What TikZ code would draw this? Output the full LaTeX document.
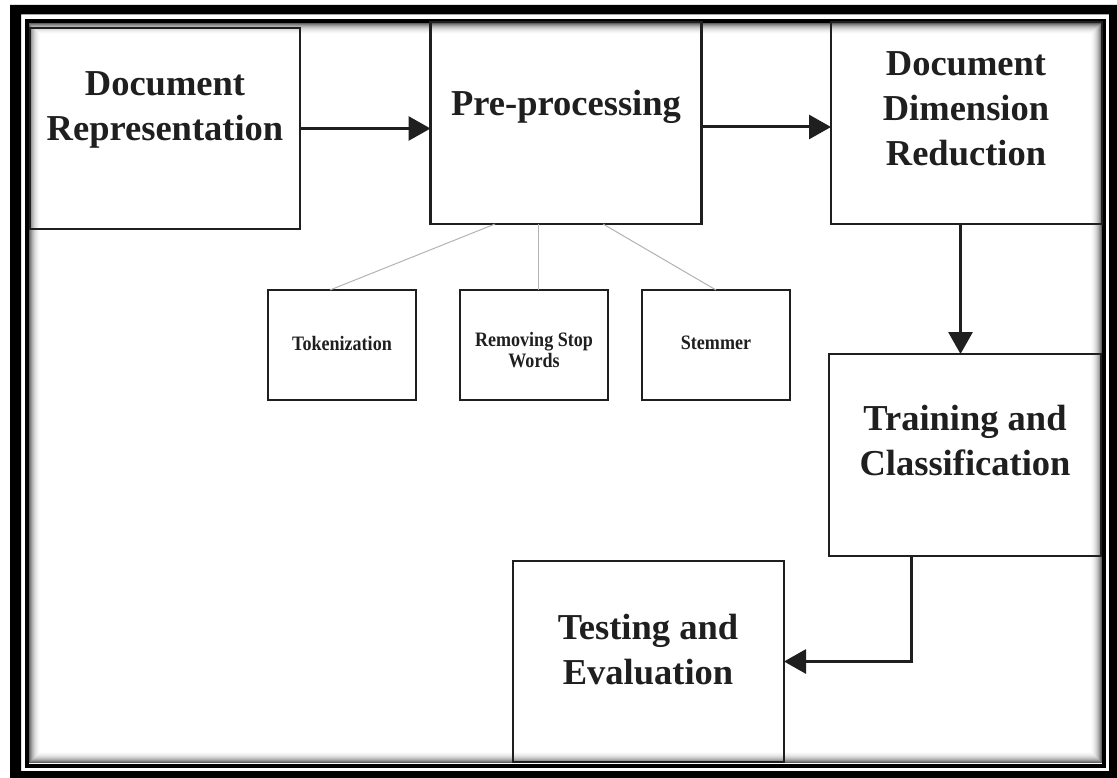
\documentclass[tikz,border=0pt]{standalone}
\usepackage{fontspec}
\setmainfont{Liberation Serif}
\newfontfamily\narrowserif[FakeStretch=0.88]{Liberation Serif}
\usetikzlibrary{arrows.meta}

\tikzset{
  stage/.style={draw=black!88, line width=2.6pt, inner sep=0pt, outer sep=0pt,
    minimum width=271pt, minimum height=202pt},
  substage/.style={draw=black!88, line width=2.8pt, inner sep=0pt, outer sep=0pt,
    minimum width=148pt, minimum height=110pt},
  bigtext/.style={font=\fontsize{36.5}{45}\selectfont\bfseries, text=black!88,
    align=center, inner sep=0pt},
  smalltext/.style={font=\narrowserif\fontsize{20.5}{21}\selectfont\bfseries,
    text=black!88, align=center, inner sep=0pt},
  flow/.style={line width=3pt, draw=black!88,
    -{Triangle[length=22pt,width=24pt]}},
  branch/.style={line width=1pt, draw=black!30},
}

\begin{document}
\begin{tikzpicture}[x=1pt, y=-1pt]
  \useasboundingbox (0,0) rectangle (1117,778);
  \fill[white] (0,0) rectangle (1117,778);

  % page frame: heavy outer band, thin inner rule and a soft inner shadow
  \fill[black, even odd rule] (10,5) rectangle (1130,790)
                               (21,14.5) rectangle (1109,771);
  \draw[black, line width=4pt] (26.5,21) rectangle (1104,765.5);
  \foreach \i/\g in {1/62,2/50,3/40,4/31,5/24,6/18,7/13,8/9,9/6,10/3,11/1}
    \draw[black!\g, line width=1pt]
      (28+\i,22.5+\i) rectangle (1102.5-\i,763.5-\i);

  % main stages
  \node[stage, minimum width=270pt, minimum height=201pt] (rep) at (165,128.5) {};
  \node[stage] (pre)   at (566,123) {};
  \node[stage] (ddr)   at (966.5,123) {};
  \node[stage, minimum width=272pt] (train) at (965,455) {};
  \node[stage, minimum height=201pt] (test) at (648.5,661.5) {};

  \node[bigtext] (repT)   at (165,110) {Document\\Representation};
  \node[bigtext] (preT)   at (566,107) {Pre-processing};
  \node[bigtext] (ddrT)   at (966,109) {Document\\Dimension\\Reduction};
  \node[bigtext] (trainT) at (965,441) {Training and\\Classification};
  \node[bigtext] (testT)  at (648,650) {Testing and\\Evaluation};

  % pre-processing sub-steps
  \node[substage] (tok)  at (342,345) {};
  \node[substage] (rsw)  at (534,345) {};
  \node[substage] (stem) at (716,345) {};

  \node[smalltext] (tokT)  at (342,343) {Tokenization};
  \node[smalltext] (rswT)  at (534,350) {Removing Stop\\Words};
  \node[smalltext] (stemT) at (716,343) {Stemmer};

  \draw[branch] ([xshift=-71pt]pre.south) -- ([xshift=-12pt]tok.north);
  \draw[branch] ([xshift=-28pt]pre.south) -- ([xshift=4pt]rsw.north);
  \draw[branch] ([xshift=37pt]pre.south)  -- (stem.north);

  % flow between stages
  \draw[flow] (rep.east) -- (rep.east -| pre.west);
  \draw[flow] ([yshift=-4pt]pre.east) -- ([yshift=-4pt]ddr.west);
  \draw[flow] ([xshift=-6pt]ddr.south) -- ([xshift=-6pt]ddr.south |- train.north);
  \draw[flow] ([xshift=-54pt]train.south) |- (test.east);
\end{tikzpicture}
\end{document}
